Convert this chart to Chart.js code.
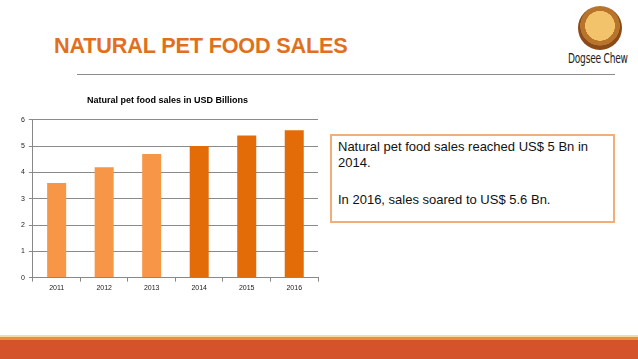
<!DOCTYPE html>
<html>
<head>
<meta charset="utf-8">
<script src="https://cdn.jsdelivr.net/npm/chart.js@4"></script>
<style>
  body { margin: 0; width: 638px; height: 359px; overflow: hidden; background: #fff; font-family: "Liberation Sans", Arial, sans-serif; position: relative; }
  .title { position: absolute; left: 54px; top: 33px; font-size: 21.7px; font-weight: bold; color: #E0701E; letter-spacing: -0.2px; }
  .rule { position: absolute; left: 77px; top: 74px; width: 538px; height: 1px; background: #8c8c8c; }
  .chart-box { position: absolute; left: 17px; top: 91px; width: 307px; height: 203px; }
  .note { position: absolute; left: 330px; top: 134px; width: 285px; height: 89px; border: 2px solid #F2AE78; box-sizing: border-box; padding: 3px 0 0 6px; font-size: 13px; line-height: 16px; color: #111; }
  .note p { margin: 0 0 21px 0; }
  .footer-line { position: absolute; left: 0; top: 335px; width: 638px; height: 2px; background: #F9D9A8; }
  .footer-band { position: absolute; left: 0; top: 337px; width: 638px; height: 3px; background: #E8903A; }
  .footer { position: absolute; left: 0; top: 340px; width: 638px; height: 19px; background: #D5532A; }
  .logo { position: absolute; left: 578px; top: 6px; width: 44px; height: 44px; border-radius: 50%; background: radial-gradient(circle at 50% 45%, #F2C36A 0 45%, #B8742A 46% 60%, #8A4A1A 61% 100%); }
  .logo-text { position: absolute; left: 568px; top: 50px; white-space: nowrap; font-family: "DejaVu Sans Condensed", "Liberation Sans Narrow", sans-serif; font-size: 14px; color: #222; transform: scaleX(0.72); transform-origin: left top; letter-spacing: -0.3px; }
</style>
</head>
<body>
<div class="title">NATURAL PET FOOD SALES</div>
<div class="logo"></div>
<div class="logo-text">Dogsee Chew</div>
<div class="rule"></div>
<div class="chart-box"><canvas id="sales"></canvas></div>
<div class="note">
  <p>Natural pet food sales reached US$ 5 Bn in 2014.</p>
  <p>In 2016, sales soared to US$ 5.6 Bn.</p>
</div>
<div class="footer-line"></div>
<div class="footer-band"></div>
<div class="footer"></div>
<script>
const years = ['2011', '2012', '2013', '2014', '2015', '2016']
const salesBn = [3.6, 4.2, 4.7, 5.0, 5.4, 5.6]
const barColors = ['#F79646', '#F79646', '#F79646', '#E36C09', '#E36C09', '#E36C09']

new Chart(document.getElementById('sales'), {
    type: 'bar',
    data: {
        labels: years,
        datasets: [{
            data: salesBn,
            backgroundColor: barColors,
            barPercentage: 0.8,
            categoryPercentage: 0.5
        }]
    },
    options: {
        responsive: true,
        maintainAspectRatio: false,
        animation: false,
        layout: { padding: { top: 0, right: 6, left: 0, bottom: 0 } },
        plugins: {
            legend: { display: false },
            tooltip: { enabled: false },
            title: {
                display: true,
                text: 'Natural pet food sales in USD Billions',
                color: '#000',
                font: { family: 'Liberation Sans', size: 9, weight: 'bold' },
                padding: { top: 4, bottom: 14 }
            }
        },
        scales: {
            x: {
                grid: { display: true, drawOnChartArea: false, offset: true, color: '#888', tickLength: 4 },
                border: { color: '#888' },
                ticks: { color: '#222', font: { family: 'Liberation Sans', size: 7 }, padding: 2 }
            },
            y: {
                min: 0,
                max: 6,
                ticks: { stepSize: 1, color: '#222', font: { family: 'Liberation Sans', size: 7 }, padding: 4 },
                grid: { color: '#8a8a8a', tickLength: 4 },
                border: { color: '#888' }
            }
        }
    }
})
</script>
</body>
</html>
